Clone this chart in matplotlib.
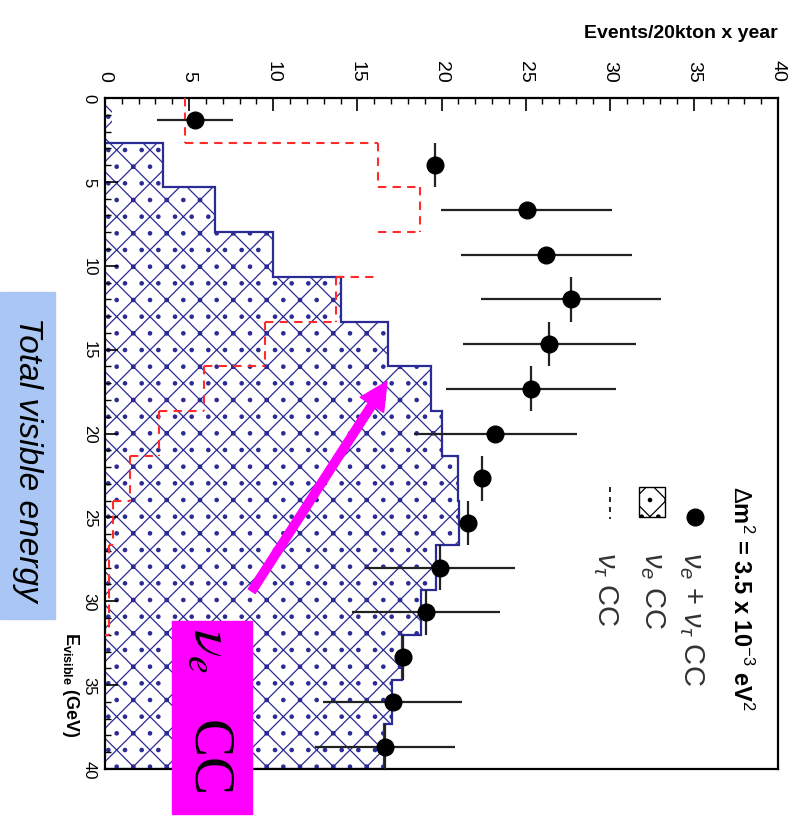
import numpy as np
import matplotlib
matplotlib.use('Agg')
import matplotlib.pyplot as plt
from matplotlib.patches import Rectangle
from matplotlib.lines import Line2D

plt.rcParams['font.family'] = ['Liberation Sans', 'DejaVu Sans']
plt.rcParams['mathtext.fontset'] = 'custom'
plt.rcParams['mathtext.rm'] = 'Liberation Sans'
plt.rcParams['mathtext.it'] = 'Liberation Sans:italic'
plt.rcParams['mathtext.bf'] = 'Liberation Sans:bold'
plt.rcParams['hatch.linewidth'] = 0.9

# ---------------- data ----------------
bin_edges = np.linspace(0, 40, 16)          # E_visible (GeV), 15 bins
nue_cc = [0.4, 3.47, 6.54, 10.0, 14.0, 16.83, 19.35, 20.0, 21.0, 21.05,
          19.67, 18.8, 17.63, 17.03, 16.6]
nutau_cc = [4.75, 16.2, 18.7, 16.25, 13.7, 9.5, 5.9, 3.2, 1.5, 0.48,
            0.24, 0.24, 0.0, 0.0, 0.0]
nutau_top_shown = [1, 1, 1, 0, 1, 1, 1, 1, 1, 1, 1, 1, 0, 0, 0]
total_events = [5.35, 19.6, 25.06, 26.24, 27.7, 26.4, 25.3, 23.2, 22.4, 21.55,
                19.9, 19.07, 17.73, 17.1, 16.64]
total_err = [2.27, 0, 5.07, 5.1, 5.35, 5.15, 5.05, 4.85, 0, 0,
             4.45, 4.4, 0, 4.13, 4.15]
bin_err_shown = [0, 1, 0, 0, 1, 1, 1, 0, 1, 1, 1, 1, 1, 0, 1]
event_ticks = [0, 5, 10, 15, 20, 25, 30, 35, 40]
energy_ticks = [0, 5, 10, 15, 20, 25, 30, 35, 40]

W, H = 794, 820
fig = plt.figure(figsize=(W / 100, H / 100), dpi=100)
ax = fig.add_axes([105 / W, 1 - 770 / H, 673 / W, 671 / H])

edges = np.array(bin_edges)
centers = 0.5 * (edges[:-1] + edges[1:])
bw = edges[1] - edges[0]
navy = '#2b2b95'

# hatched nu_e CC histogram
ax.barh(centers, nue_cc, height=bw, color='white', edgecolor=navy,
        linewidth=0, hatch='x.', zorder=1)
ax.stairs(nue_cc[1:], edges[1:], orientation='horizontal', color=navy, lw=1.6,
          baseline=0, zorder=2)

# dashed nu_tau CC histogram
red = '#ff2a2a'
dash = (0, (4, 3))
v = np.array(nutau_cc)
for i in range(len(v)):
    if nutau_top_shown[i] and v[i] > 0:
        ax.vlines(v[i], edges[i], edges[i + 1], colors=red, linestyles=dash, lw=1.5, zorder=3)
for i in range(1, len(v)):
    if v[i] != v[i - 1]:
        ax.hlines(edges[i], min(v[i - 1], v[i]), max(v[i - 1], v[i]),
                  colors=red, linestyles=dash, lw=1.5, zorder=3)

# data points
ax.errorbar(total_events, centers, xerr=total_err,
            yerr=np.array(bin_err_shown) * bw / 2, fmt='o', color='black',
            ecolor='#222222', ms=12, elinewidth=1.6, capsize=0, zorder=4)

# arrow
ax.annotate('', xy=(16.76, 16.9), xytext=(8.72, 29.4),
            arrowprops=dict(facecolor='#ff00ff', edgecolor='#ff00ff',
                            width=6, headwidth=20, headlength=20), zorder=5)

ax.set_xlim(0, 40)
ax.set_ylim(40, 0)
ax.set_xticks(event_ticks)
ax.set_yticks(energy_ticks)
ax.set_xticks(np.arange(0, 41, 1), minor=True)
ax.set_yticks(np.arange(0, 41, 1), minor=True)
ax.xaxis.tick_top()
ax.tick_params(axis='x', which='both', top=True, bottom=False, labeltop=True,
               labelbottom=False, direction='in', labelrotation=-90, pad=12,
               labelsize=14)
ax.tick_params(axis='y', which='both', left=True, right=False, direction='in',
               labelrotation=-90, pad=6, labelsize=12)
ax.tick_params(which='major', length=9, width=1.2)
ax.tick_params(which='minor', length=4, width=1.0)
for lab in ax.get_yticklabels():
    lab.set_va('center')
for sp in ax.spines.values():
    sp.set_linewidth(1.6)

# ---------------- figure texts ----------------
fig.text(778 / W, 1 - 38 / H, 'Events/20kton x year', ha='right',
         va='baseline', fontsize=14, fontweight='bold')

fig.add_artist(Rectangle((0, 1 - 620 / H), 55 / W, 327 / H,
                         transform=fig.transFigure, color='#a9c6f5', zorder=5))
fig.text(27 / W, 1 - 459 / H, 'Total visible energy', rotation=-90,
         ha='center', va='center', fontsize=24, fontstyle='italic', zorder=6)

fig.text(70 / W, 1 - 632 / H, r'$\mathbf{E_{visible}}$ (GeV)', rotation=-90,
         ha='center', va='top', fontsize=13, fontweight='bold', zorder=6)

fig.add_artist(Rectangle((172 / W, 1 - 815 / H), 80 / W, 193 / H,
                         transform=fig.transFigure, color='#ff00ff', zorder=5))
fig.text(210 / W, 1 - 628 / H, r'$\nu_e$   CC', rotation=-90, ha='center',
         va='top', fontsize=41, family='Liberation Serif', zorder=6,
         math_fontfamily='stix')

# ---------------- legend (rotated) ----------------
gray = '#333333'
fig.text(741 / W, 1 - 486 / H, r'$\Delta$m$^2$ = 3.5 x 10$^{-3}$ eV$^2$',
         rotation=-90, ha='center', va='top', fontsize=17, color='black',
         fontweight='bold')
fig.add_artist(Line2D([695 / W], [1 - 518 / H], marker='o', ms=12, color='black',
                      transform=fig.transFigure))
fig.text(691 / W, 1 - 552 / H, r'$\nu_e$ + $\nu_\tau$ CC', rotation=-90,
         ha='center', va='top', fontsize=21, color=gray)
fig.add_artist(Rectangle((639 / W, 1 - 518 / H), 26 / W, 30 / H,
                         transform=fig.transFigure, facecolor='white',
                         edgecolor='black', hatch='x.', lw=1))
fig.text(652 / W, 1 - 552 / H, r'$\nu_e$ CC', rotation=-90, ha='center',
         va='top', fontsize=21, color=gray)
fig.add_artist(Line2D([610 / W, 610 / W], [1 - 488 / H, 1 - 520 / H],
                      color='black', lw=1.2, ls=(0, (3, 3)),
                      transform=fig.transFigure))
fig.text(605 / W, 1 - 552 / H, r'$\nu_\tau$ CC', rotation=-90, ha='center',
         va='top', fontsize=21, color=gray)

fig.savefig('out.png', dpi=100)
